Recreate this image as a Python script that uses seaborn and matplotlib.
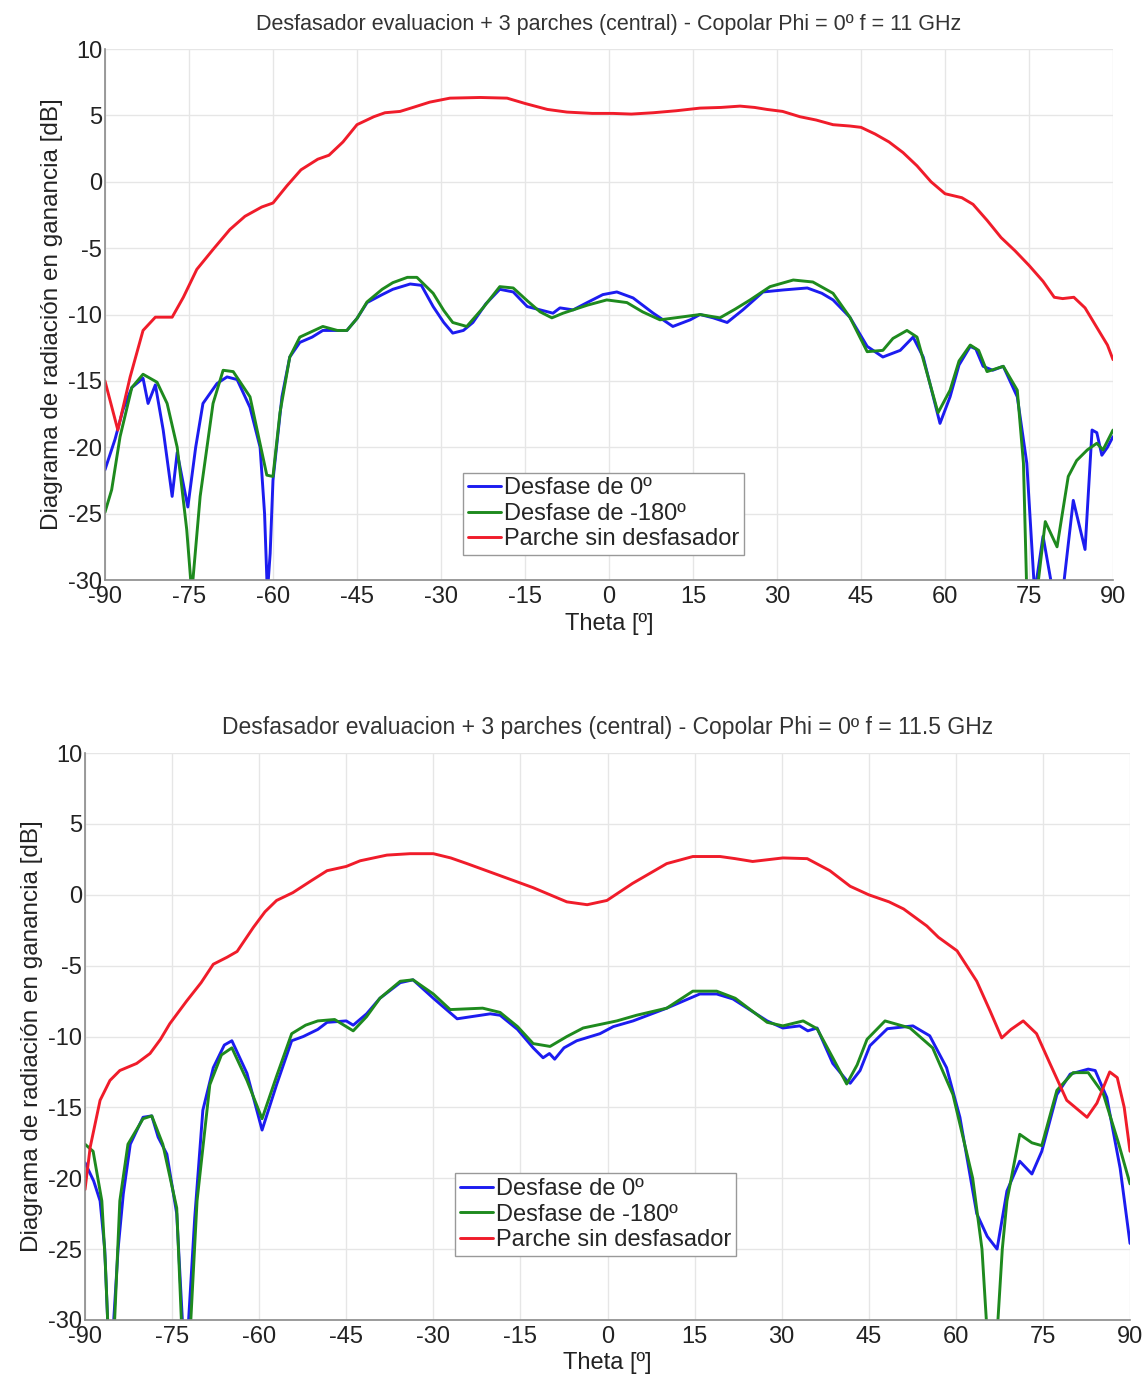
import numpy as np
import pandas as pd
import matplotlib
matplotlib.use("Agg")
import matplotlib.pyplot as plt
import seaborn as sns

# ---------------- data: top panel (f = 11 GHz) ----------------
top_red_theta = [-90, -87.7, -85.5, -83.2, -81, -78, -76, -73.6, -70.7, -67.7, -65, -62, -60, -57.5, -55,
                 -52, -50, -47.5, -45, -42, -40, -37.3, -35, -32, -28.4, -23, -18.2, -15, -11, -7.5, -3,
                 0.7, 4, 7.9, 12, 16.25, 20, 23.4, 26, 28.2, 31, 34.1, 37, 40, 43, 45, 47.5, 50, 52.5,
                 55, 57.5, 60, 63, 65, 67.5, 70, 72.5, 75, 77.5, 79.5, 81, 83, 85, 87, 89, 90]
top_red_gain = [-15.0, -18.7, -14.7, -11.2, -10.2, -10.2, -8.7, -6.6, -5.1, -3.6, -2.6, -1.9, -1.6, -0.3, 0.9,
                1.7, 2.0, 3.0, 4.3, 4.9, 5.2, 5.3, 5.6, 6.0, 6.3, 6.35, 6.3, 5.9, 5.45, 5.25, 5.15,
                5.15, 5.1, 5.2, 5.35, 5.55, 5.6, 5.7, 5.6, 5.45, 5.3, 4.9, 4.65, 4.3, 4.2, 4.1, 3.6, 3.0, 2.2,
                1.2, 0.0, -0.9, -1.2, -1.7, -2.9, -4.2, -5.2, -6.3, -7.5, -8.7, -8.8, -8.7, -9.5, -10.9, -12.3, -13.4]

top_blue_theta = [-90, -88.2, -86.8, -85.2, -83.2, -82.3, -81, -79.6, -78, -77.1, -75.2, -73.8, -72.5, -70,
                  -68.2, -66.4, -64.1, -62.3, -61.5, -61, -60.5, -60, -58.4, -57, -55.2, -53, -51.1, -49,
                  -46.8, -45, -43.2, -40.5, -38.6, -35.5, -33.5, -31.4, -29.5, -27.9, -26, -24.3, -22,
                  -19.5, -17.1, -14.6, -12.3, -10, -8.75, -6.4, -3.9, -1.1, 1.4, 4.3, 7.9, 11.4, 14.5,
                  16.25, 18.6, 21.1, 23.9, 27.5, 31.1, 35.4, 38, 40, 43, 46.1, 48.9, 52, 54.3, 56.1, 59.1,
                  60.9, 62.5, 64.5, 65.5, 66.8, 68.5, 70.4, 72.9, 74.6, 76, 77.5, 79.3, 81, 82.9, 85,
                  86.25, 87.1, 88, 89, 90]
top_blue_gain = [-21.7, -19.4, -17.2, -15.5, -14.8, -16.7, -15.3, -18.7, -23.7, -20.4, -24.5, -20.0, -16.7, -15.2,
                 -14.7, -14.9, -17.0, -20.0, -25.0, -31.0, -28.0, -22.5, -16.2, -13.2, -12.1, -11.7, -11.2, -11.2,
                 -11.2, -10.3, -9.1, -8.5, -8.1, -7.7, -7.8, -9.4, -10.6, -11.4, -11.2, -10.6, -9.2,
                 -8.1, -8.3, -9.4, -9.65, -9.9, -9.5, -9.65, -9.1, -8.5, -8.3, -8.75, -9.9, -10.9, -10.4,
                 -10.0, -10.25, -10.6, -9.65, -8.3, -8.15, -8.0, -8.4, -8.9, -10.2, -12.4, -13.2, -12.7, -11.7, -13.2, -18.2,
                 -16.2, -13.8, -12.4, -12.6, -13.9, -14.2, -13.9, -16.2, -21.2, -31.0, -26.7, -31.0, -31.0, -24.0, -27.7,
                 -18.7, -18.9, -20.6, -20.0, -19.2]

top_green_theta = [-90, -88.8, -87.3, -85.2, -83.2, -80.7, -78.9, -77.1, -75.4, -74.5, -73, -70.7, -68.9,
                   -67.1, -64.1, -61.1, -60, -58.75, -57, -55.2, -51.1, -48.5, -46.8, -45, -43.2, -40.5,
                   -38.6, -36, -34.3, -31.4, -29.5, -27.9, -25.4, -22.5, -19.5, -17.1, -14.5, -12.3, -10.2,
                   -8.2, -3.9, -0.4, 3.2, 6, 9.1, 12.7, 16.25, 19.8, 22.5, 25.2, 28.75, 32.9, 36.4, 40, 43,
                   46.1, 48.9, 50.7, 53.2, 55, 58.75, 60.9, 62.5, 64.5, 66, 67.5, 70.4, 72.9, 74, 74.6,
                   76.4, 77.9, 80, 82, 83.5, 85.4, 87.1, 88.2, 90]
top_green_gain = [-24.9, -23.2, -19.2, -15.5, -14.5, -15.1, -16.7, -20.0, -26.2, -31.0, -23.7, -16.7, -14.2,
                  -14.3, -16.2, -22.1, -22.2, -17.4, -13.2, -11.7, -10.9, -11.2, -11.2, -10.3, -9.05, -8.1,
                  -7.6, -7.2, -7.2, -8.4, -9.7, -10.6, -10.9, -9.5, -7.9, -8.0, -9.0, -9.8, -10.25,
                  -9.9, -9.3, -8.9, -9.1, -9.8, -10.4, -10.2, -10.0, -10.25, -9.6, -8.9, -7.9, -7.4, -7.55, -8.4, -10.2,
                  -12.8, -12.7, -11.8, -11.2, -11.7, -17.4, -15.7, -13.5, -12.3, -12.7, -14.3, -13.9, -15.7, -21.2, -31.0,
                  -31.0, -25.6, -27.5, -22.2, -21.0, -20.2, -19.7, -20.2, -18.7]

# ---------------- data: bottom panel (f = 11.5 GHz) ----------------
bot_red_theta = [-90, -89.1, -87.4, -85.7, -84, -81.1, -78.8, -77, -75.4, -72.5, -70, -67.9, -65.5, -63.8,
                 -61, -59, -57, -54.2, -51, -48.3, -45, -42.6, -38, -34, -30, -27, -24.2, -18.5, -12.8,
                 -7, -3.5, -0.1, 4.3, 10.2, 14.7, 19.4, 22, 25, 30.2, 34.4, 38.3, 41.8, 45, 48.5, 51, 55,
                 57, 60.2, 63.6, 65.9, 67.9, 69.5, 71.6, 73.9, 76.2, 79.1, 82.6, 84.3, 86.5, 87.8, 89, 90]
bot_red_gain = [-20.8, -17.8, -14.5, -13.1, -12.4, -11.9, -11.2, -10.2, -9.1, -7.5, -6.2, -4.9, -4.4, -4.0,
                -2.3, -1.2, -0.4, 0.15, 1.0, 1.7, 2.0, 2.4, 2.8, 2.9, 2.9, 2.6, 2.2, 1.35, 0.5,
                -0.5, -0.7, -0.4, 0.8, 2.2, 2.7, 2.7, 2.55, 2.35, 2.6, 2.55, 1.7, 0.6, 0.0, -0.5, -1.0, -2.2,
                -3.0, -3.95, -6.1, -8.2, -10.1, -9.5, -8.9, -9.8, -11.9, -14.5, -15.7, -14.7, -12.5, -12.9, -15.0, -18.1]

bot_blue_theta = [-90, -88.5, -87.4, -86.6, -86, -85.2, -84.3, -83.4, -82.2, -80, -78.5, -77.4, -75.9, -74.2,
                  -73.1, -72.3, -71.1, -69.7, -67.9, -66, -64.7, -62.1, -59.5, -57, -54.4, -52.4, -49.9,
                  -48.3, -45, -43.8, -41.5, -39.2, -35.7, -33.5, -30, -25.9, -20.2, -18.5, -15.5, -12.8,
                  -11.1, -10, -9.1, -7.5, -5.3, -1.3, 1, 4.4, 10.2, 15.9, 18.8, 21.6, 27.5, 30.2, 33.1,
                  34.5, 36.1, 38.8, 41.2, 41.8, 43.5, 45.2, 48.2, 52.6, 55.5, 58.4, 60.7, 63.6, 65.4, 67.1,
                  68.8, 71, 73.1, 74.8, 77.4, 79.7, 82.8, 84, 86, 88.3, 90]
bot_blue_gain = [-18.9, -20.2, -21.6, -25.0, -31.0, -31.0, -25.0, -21.1, -17.6, -15.7, -15.6, -17.1, -18.3, -22.5,
                 -31.0, -31.0, -22.8, -15.2, -12.2, -10.6, -10.3, -12.6, -16.6, -13.4, -10.3, -10.0, -9.5,
                 -9.0, -8.9, -9.2, -8.4, -7.3, -6.2, -6.0, -7.3, -8.75, -8.4, -8.5, -9.5, -10.8,
                 -11.5, -11.2, -11.6, -10.8, -10.3, -9.8, -9.3, -8.9, -8.0, -7.0, -7.0, -7.35, -8.9, -9.4, -9.25,
                 -9.6, -9.4, -11.9, -13.1, -13.3, -12.4, -10.65, -9.45, -9.25, -9.95, -12.2, -15.7, -22.5, -24.1, -25.0,
                 -20.9, -18.8, -19.7, -18.1, -14.1, -12.65, -12.3, -12.4, -14.3, -19.3, -24.6]

bot_green_theta = [-90, -88.6, -87.1, -86.5, -86, -85, -84, -82.6, -80, -78.5, -76.6, -74.2, -73.3, -71.9,
                   -70.7, -68.5, -66.5, -64.7, -62.1, -59.5, -57, -54.4, -52, -49.9, -47, -43.8, -41.5,
                   -39.2, -35.7, -33.5, -30, -27.1, -21.5, -18.5, -15.5, -12.8, -9.9, -7, -4.2, 1.6, 5,
                   10.2, 14.7, 18.8, 22, 27.5, 30.2, 33.7, 36.1, 38.8, 41.2, 43, 44.7, 47.8, 52.1, 56, 59.5,
                   62.9, 64.5, 65.4, 67.1, 68, 68.8, 71, 73.1, 74.8, 77.4, 80.2, 82.8, 85.4, 88, 90]
bot_green_gain = [-17.6, -18.1, -21.6, -26.0, -31.0, -31.0, -21.6, -17.6, -15.8, -15.6, -17.6, -22.1, -31.0, -31.0,
                  -21.6, -13.4, -11.3, -10.8, -13.1, -15.8, -12.8, -9.8, -9.2, -8.9, -8.8, -9.6, -8.6,
                  -7.3, -6.1, -6.0, -7.0, -8.1, -8.0, -8.3, -9.3, -10.5, -10.7, -10.0, -9.4, -8.9, -8.5,
                  -8.0, -6.8, -6.8, -7.3, -9.0, -9.25, -8.9, -9.45, -11.5, -13.35, -12.0, -10.2, -8.9, -9.4, -10.8, -14.1,
                  -20.0, -25.0, -31.0, -31.0, -25.0, -21.6, -16.9, -17.5, -17.7, -13.8, -12.55, -12.55, -14.05, -17.5, -20.4]

series_labels = ["Desfase de 0º", "Desfase de -180º", "Parche sin desfasador"]
titles = ["Desfasador evaluacion + 3 parches (central) - Copolar Phi = 0º f = 11 GHz",
          "Desfasador evaluacion + 3 parches (central) - Copolar Phi = 0º f = 11.5 GHz"]
x_ticks = list(range(-90, 91, 15))
y_ticks = list(range(-30, 11, 5))
x_label = "Theta [º]"
y_label = "Diagrama de radiación en ganancia [dB]"


def build(blue_t, blue_g, green_t, green_g, red_t, red_g):
    frames = []
    for lab, t, g in zip(series_labels, [blue_t, green_t, red_t], [blue_g, green_g, red_g]):
        frames.append(pd.DataFrame({"theta": t, "gain": g, "serie": lab}))
    return pd.concat(frames, ignore_index=True)


df_top = build(top_blue_theta, top_blue_gain, top_green_theta, top_green_gain, top_red_theta, top_red_gain)
df_bot = build(bot_blue_theta, bot_blue_gain, bot_green_theta, bot_green_gain, bot_red_theta, bot_red_gain)

sns.set_theme(style="whitegrid")
plt.rcParams["font.family"] = ["Liberation Sans", "DejaVu Sans"]
plt.rcParams["axes.unicode_minus"] = False

palette = {series_labels[0]: "#1c1cf0", series_labels[1]: "#1e8a1e", series_labels[2]: "#f01c2a"}

fig = plt.figure(figsize=(11.47, 13.81), dpi=100)
ax1 = fig.add_axes([0.0915, 0.580, 0.8789, 0.3845])
ax2 = fig.add_axes([0.0741, 0.0442, 0.9111, 0.4105])

configs = [
    (ax1, df_top, titles[0], (0.355, 0.047), 15.5, 4),
    (ax2, df_bot, titles[1], (0.354, 0.113), 16.5, 3),
]

for ax, df, title, legpos, tsize, xlpad in configs:
    sns.lineplot(data=df, x="theta", y="gain", hue="serie", hue_order=series_labels,
                 palette=palette, estimator=None, sort=False, linewidth=2.1, ax=ax)
    ax.set_xlim(-90, 90)
    ax.set_ylim(-30, 10)
    ax.set_xticks(x_ticks)
    ax.set_yticks(y_ticks)
    ax.grid(True, color="#e6e6e6", linewidth=1.0)
    ax.set_facecolor("white")
    for side in ["top", "right"]:
        ax.spines[side].set_visible(False)
    for side in ["left", "bottom"]:
        ax.spines[side].set_color("#8a8a8a")
        ax.spines[side].set_linewidth(1.2)
    ax.tick_params(axis="both", which="both", direction="in", length=5, width=1,
                   color="#8a8a8a", labelsize=17, labelcolor="#222222")
    ax.tick_params(axis="y", pad=2)
    ax.tick_params(axis="x", pad=4)
    ax.set_title(title, fontsize=tsize, color="#333333", pad=14)
    ax.set_xlabel(x_label, fontsize=17, color="#222222", labelpad=xlpad)
    ax.set_ylabel(y_label, fontsize=17.5, color="#222222", labelpad=4)
    leg = ax.legend(loc="lower left", bbox_to_anchor=legpos, borderaxespad=0,
                    fontsize=17, frameon=True, fancybox=False, framealpha=1,
                    edgecolor="#999999", handlelength=1.4, handletextpad=0.15,
                    labelspacing=0.15, borderpad=0.2)
    leg.get_frame().set_linewidth(1.0)
    for line in leg.get_lines():
        line.set_linewidth(2.1)

fig.savefig("out.png", dpi=100, facecolor="white")
